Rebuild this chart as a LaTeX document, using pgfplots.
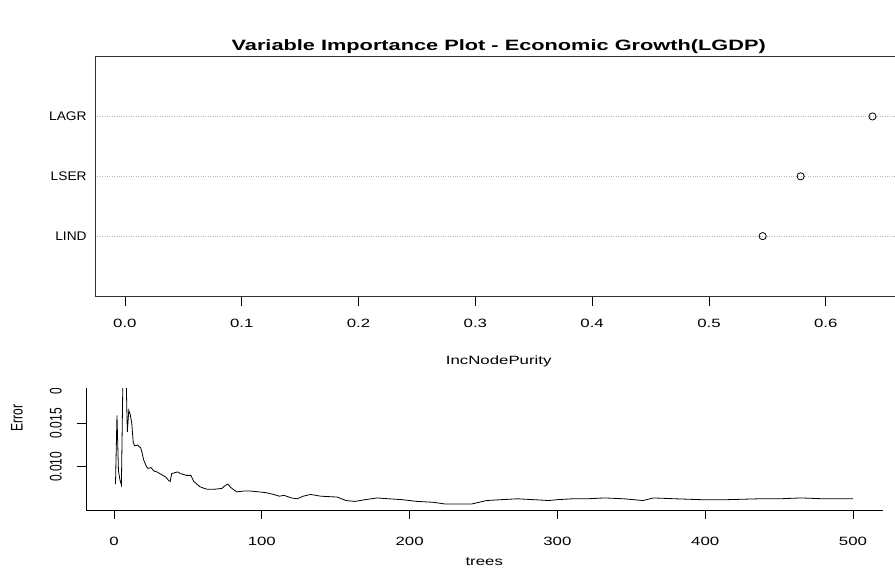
\documentclass[border=0pt]{standalone}
\usepackage{fontspec}
\setmainfont{Liberation Sans}
\usepackage{pgfplots}
\pgfplotsset{compat=1.18}

\pgfplotstableread{
tree err
1 0.0080
2 0.0159
3 0.0095
4 0.0085
5 0.0079
6 0.0200
7 0.0254
8 0.0220
9 0.0140
10 0.0165
11 0.0160
12 0.0150
13 0.0128
14 0.0124
16 0.0125
17 0.0123
18 0.0122
19 0.0116
20 0.0108
21 0.0104
22 0.0100
23 0.0098
25 0.0099
27 0.0095
29 0.0094
31 0.0092
33 0.0090
35 0.0088
37 0.0084
38 0.0083
39 0.0092
41 0.0093
43 0.0094
45 0.0092
47 0.0091
49 0.0090
52 0.0090
54 0.0083
56 0.0080
58 0.0077
61 0.0075
63 0.0074
68 0.0074
73 0.0075
75 0.0078
77 0.0080
79 0.0076
83 0.0071
88 0.0072
92 0.0072
98 0.0071
103 0.0070
108 0.0068
112 0.0066
115 0.0067
120 0.0064
124 0.0063
128 0.0066
133 0.0068
140 0.0066
151 0.0065
157 0.0061
163 0.0060
170 0.0062
178 0.0064
186 0.0063
195 0.0062
205 0.0060
216 0.0059
224 0.0057
235 0.0057
242 0.0057
252 0.0061
262 0.0062
273 0.0063
284 0.0062
294 0.0061
300 0.0062
310 0.0063
320 0.0063
332 0.0064
345 0.0063
358 0.0061
365 0.0064
380 0.0063
397 0.0062
415 0.0062
436 0.0063
450 0.0063
465 0.0064
480 0.0063
500 0.0063
}\errtable

\pgfplotstableread{
pos val name
1 0.546 LIND
2 0.5785 LSER
3 0.640 LAGR
}\imptable

\begin{document}
\begin{tikzpicture}[x=1pt,y=1pt]
\path[use as bounding box] (0,0) rectangle (895,568);
\clip (0,0) rectangle (895,568);

% ---------- bottom panel: error vs trees ----------
\begin{axis}[
  at={(86pt,58pt)}, anchor=south west,
  width=796.5pt, height=184pt, scale only axis,
  xmin=-18.96, xmax=519.96, ymin=0.00501, ymax=0.02621,
  axis x line*=bottom, axis y line*=left,
  axis line style={line width=0.8pt, -},
  xtick={0,100,200,300,400,500},
  xticklabels={0,100,200,300,400,500},
  ytick={0.010,0.015,0.020},
  yticklabels={0.010,0.015,0.020},
  tick align=outside, major tick length=9pt,
  tick style={line width=0.8pt, black},
  xticklabel style={font=\fontsize{12}{14}\selectfont, xscale=1.4, anchor=center, yshift=-22pt},
  yticklabel style={font=\fontsize{12}{14}\selectfont, xscale=1.4, rotate=90, anchor=south, inner sep=0pt},
  yticklabel shift=15pt,
  xlabel={trees}, ylabel={Error},
  every axis x label/.style={at={(axis description cs:0.5,0)}, anchor=center, yshift=-52pt, font=\fontsize{12}{14}\selectfont, xscale=1.4},
  every axis y label/.style={at={(axis description cs:0,0.5)}, anchor=center, xshift=-69pt, font=\fontsize{12}{14}\selectfont, xscale=1.4, rotate=90},
]
\addplot[black, line width=0.8pt] table[x=tree, y=err] {\errtable};
\end{axis}

% cover (top panel overlaps the bottom one)
\fill[white] (0,180) rectangle (895,568);

% ---------- top panel: variable importance ----------
\begin{axis}[
  at={(95pt,272pt)}, anchor=south west,
  width=807.4pt, height=239.4pt, scale only axis,
  xmin=-0.0256, xmax=0.6656, ymin=0, ymax=4,
  axis line style={line width=0.8pt, black!80},
  xtick={0,0.1,0.2,0.3,0.4,0.5,0.6},
  xticklabels={0.0,0.1,0.2,0.3,0.4,0.5,0.6},
  ytick={1,2,3}, yticklabels={LIND,LSER,LAGR},
  xtick pos=bottom, ytick pos=left,
  tick align=outside, major tick length=10pt,
  x tick style={line width=0.8pt, black},
  y tick style={draw=none},
  ymajorgrids, grid style={dotted, gray!55, line width=0.7pt},
  xticklabel style={font=\fontsize{12}{14}\selectfont, xscale=1.4, anchor=center, yshift=-17pt},
  yticklabel style={font=\fontsize{12.5}{14}\selectfont, xscale=1.1, anchor=east, xshift=5pt},
  xlabel={IncNodePurity},
  every axis x label/.style={at={(axis description cs:0.5,0)}, anchor=center, yshift=-65pt, font=\fontsize{12}{14}\selectfont, xscale=1.4},
  title={Variable Importance Plot - Economic Growth(LGDP)},
  every axis title/.style={at={(axis description cs:0.5,1)}, anchor=center, yshift=9.5pt, font=\fontsize{15}{18}\selectfont\bfseries, xscale=1.45},
]
\addplot[only marks, mark=o, mark size=3.6pt, black, mark options={line width=0.8pt}] table[x=val, y=pos] {\imptable};
\end{axis}
\end{tikzpicture}
\end{document}
